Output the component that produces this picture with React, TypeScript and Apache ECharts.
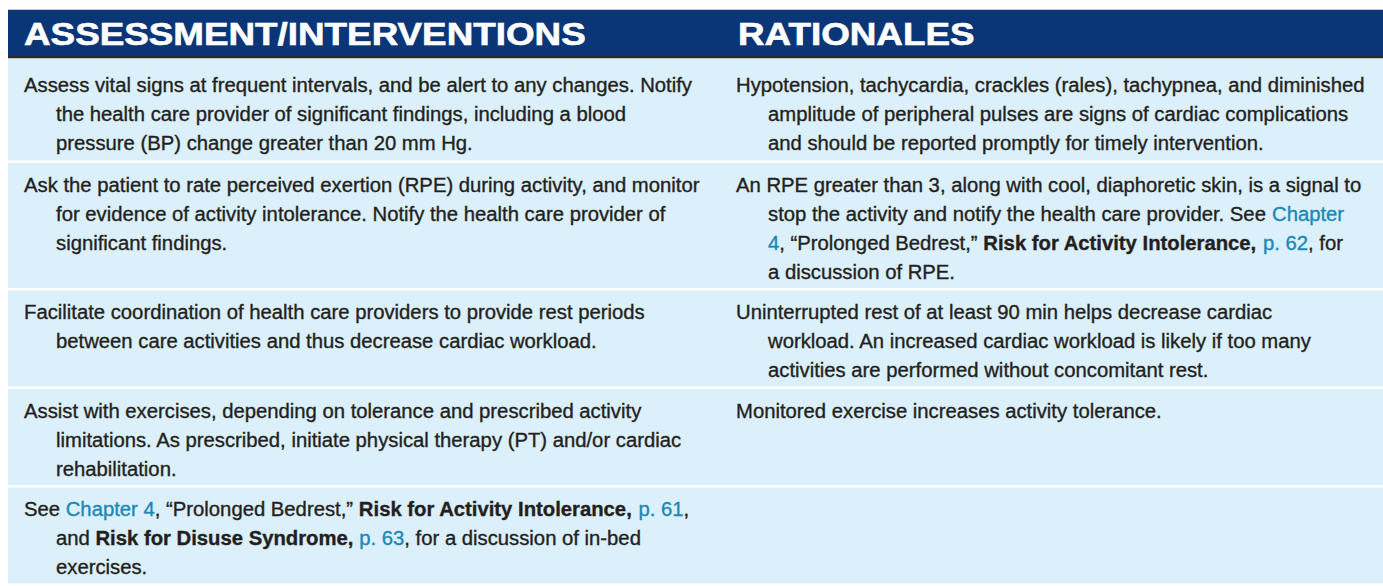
import React, { useEffect, useRef } from "react";
import * as echarts from "echarts";

type Run = [string, string]; // [kind, text]  n = normal, b = bold, l = link

const headers: string[] = ["ASSESSMENT/INTERVENTIONS", "RATIONALES"];

const interventions: Run[][][] = [
  [
    [["n", "Assess vital signs at frequent intervals, and be alert to any changes. Notify"]],
    [["n", "the health care provider of significant findings, including a blood"]],
    [["n", "pressure (BP) change greater than 20 mm Hg."]],
  ],
  [
    [["n", "Ask the patient to rate perceived exertion (RPE) during activity, and monitor"]],
    [["n", "for evidence of activity intolerance. Notify the health care provider of"]],
    [["n", "significant findings."]],
  ],
  [
    [["n", "Facilitate coordination of health care providers to provide rest periods"]],
    [["n", "between care activities and thus decrease cardiac workload."]],
  ],
  [
    [["n", "Assist with exercises, depending on tolerance and prescribed activity"]],
    [["n", "limitations. As prescribed, initiate physical therapy (PT) and/or cardiac"]],
    [["n", "rehabilitation."]],
  ],
  [
    [["n", "See "], ["l", "Chapter 4"], ["n", ", \u201CProlonged Bedrest,\u201D "], ["b", "Risk for Activity Intolerance,"], ["n", " "], ["l", "p. 61"], ["n", ","]],
    [["n", "and "], ["b", "Risk for Disuse Syndrome,"], ["n", " "], ["l", "p. 63"], ["n", ", for a discussion of in-bed"]],
    [["n", "exercises."]],
  ],
];

const rationales: Run[][][] = [
  [
    [["n", "Hypotension, tachycardia, crackles (rales), tachypnea, and diminished"]],
    [["n", "amplitude of peripheral pulses are signs of cardiac complications"]],
    [["n", "and should be reported promptly for timely intervention."]],
  ],
  [
    [["n", "An RPE greater than 3, along with cool, diaphoretic skin, is a signal to"]],
    [["n", "stop the activity and notify the health care provider. See "], ["l", "Chapter"]],
    [["l", "4"], ["n", ", \u201CProlonged Bedrest,\u201D "], ["b", "Risk for Activity Intolerance,"], ["n", " "], ["l", "p. 62"], ["n", ", for"]],
    [["n", "a discussion of RPE."]],
  ],
  [
    [["n", "Uninterrupted rest of at least 90 min helps decrease cardiac"]],
    [["n", "workload. An increased cardiac workload is likely if too many"]],
    [["n", "activities are performed without concomitant rest."]],
  ],
  [
    [["n", "Monitored exercise increases activity tolerance."]],
  ],
  [],
];

const BODY_FONT = "'Liberation Sans Narrow', 'Liberation Sans', Arial, sans-serif";
const HEAD_FONT = "'Liberation Sans', Arial, sans-serif";
const TEXT_COLOR = "#231f20";
const LINK_COLOR = "#1b88b6";
const BAND_COLOR = "#0a3678";
const ROW_BG = "#dbf0fb";

export default function App() {
  const ref = useRef<HTMLDivElement>(null);

  useEffect(() => {
    document.body.style.margin = "0";
    if (!ref.current) return;
    const chart = echarts.init(ref.current, undefined, { renderer: "svg" });

    const ctx = document.createElement("canvas").getContext("2d")!;
    const measure = (t: string, bold: boolean, size: number, fam: string) => {
      ctx.font = `${bold ? "bold " : ""}${size}px ${fam}`;
      return ctx.measureText(t).width;
    };

    const FS = 20;
    const HFS = 30.5;
    const lineText = (line: Run[]) => line.map((r) => r[1]).join("");
    const sL = 674 / measure(lineText(interventions[0][0]), false, FS, BODY_FONT);
    const sR = 624 / measure(lineText(rationales[0][0]), false, FS, BODY_FONT);
    const scale = (sL + sR) / 2;
    const hScale = 562 / measure(headers[0], true, HFS, HEAD_FONT);

    const els: any[] = [];
    const W = 1383;
    const X0 = 8;

    // header band
    els.push({ type: "rect", shape: { x: X0, y: 9, width: W - X0, height: 1 }, style: { fill: "#c9c9c9" }, silent: true });
    els.push({ type: "rect", shape: { x: X0, y: 10, width: W - X0, height: 46 }, style: { fill: BAND_COLOR }, silent: true });
    els.push({ type: "rect", shape: { x: X0, y: 56, width: W - X0, height: 2.5 }, style: { fill: "#2b2b2b" }, silent: true });
    const headerX = [24, 738];
    headers.forEach((h, i) => {
      els.push({
        type: "text",
        x: headerX[i],
        y: 44.5 - 0.3465 * HFS,
        scaleX: hScale,
        silent: true,
        style: {
          text: h,
          fontSize: HFS,
          fontFamily: HEAD_FONT,
          fontWeight: "bold",
          fill: "#ffffff",
          stroke: "#ffffff",
          lineWidth: 0.6,
          align: "left",
          verticalAlign: "middle",
          textAlign: "left",
          textVerticalAlign: "middle",
        },
      });
    });

    const LH = 29;
    const PAD_TOP = 28.5;
    const PAD_BOTTOM = 9.5;
    const GAP = 2.5;
    let top = 58.5;

    const colX = [
      [24, 56],
      [736, 768],
    ];

    const drawLines = (lines: Run[][], firstBaseline: number, col: number) => {
      lines.forEach((line, li) => {
        let x = li === 0 ? colX[col][0] : colX[col][1];
        const baseline = firstBaseline + li * LH;
        line.forEach(([kind, t]) => {
          const bold = kind === "b";
          const color = kind === "l" ? LINK_COLOR : TEXT_COLOR;
          els.push({
            type: "text",
            x,
            y: baseline - 0.3465 * FS,
            scaleX: scale,
            silent: true,
            style: {
              text: t,
              fontSize: FS,
              fontFamily: BODY_FONT,
              fontWeight: bold ? "bold" : "normal",
              fill: color,
              stroke: color,
              lineWidth: 0.35,
              align: "left",
              verticalAlign: "middle",
              textAlign: "left",
              textVerticalAlign: "middle",
            },
          });
          x += measure(t, bold, FS, BODY_FONT) * scale;
        });
      });
    };

    interventions.forEach((left, i) => {
      const right = rationales[i] || [];
      const n = Math.max(left.length, right.length, 1);
      const extra = i === 0 ? 5 : 0;
      const h = extra + PAD_TOP + (n - 1) * LH + PAD_BOTTOM + (i === 0 ? 1 : 0);
      els.push({ type: "rect", shape: { x: X0, y: top, width: W - X0, height: h }, style: { fill: ROW_BG }, silent: true });
      const fb = top + extra + PAD_TOP;
      drawLines(left, fb, 0);
      drawLines(right, fb, 1);
      top += h + GAP;
    });

    chart.setOption({
      animation: false,
      graphic: { elements: els },
    });

    return () => chart.dispose();
  }, []);

  return <div ref={ref} style={{ width: 1383, height: 586 }} />;
}
